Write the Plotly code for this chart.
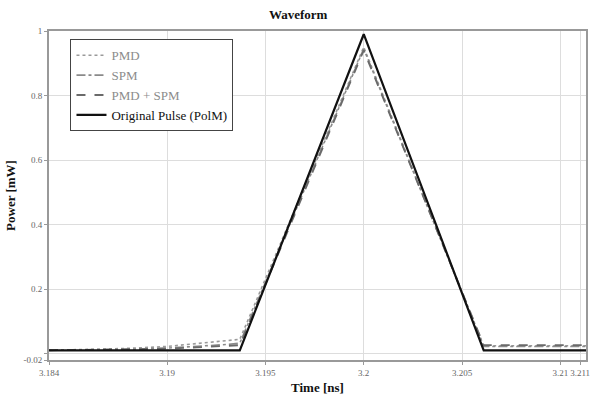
import plotly.graph_objects as go

# Time axis samples [ns]
time_ns = [3.184, 3.186, 3.188, 3.190, 3.1915, 3.193, 3.1937, 3.2, 3.2061, 3.208, 3.210, 3.2113]

# Power [mW] for each case
pmd = [0.010, 0.012, 0.016, 0.022, 0.030, 0.038, 0.044, 0.950, 0.024, 0.024, 0.024, 0.024]
spm = [0.010, 0.011, 0.013, 0.017, 0.022, 0.028, 0.032, 0.945, 0.022, 0.022, 0.022, 0.022]
pmd_spm = [0.010, 0.011, 0.012, 0.015, 0.019, 0.023, 0.026, 0.940, 0.026, 0.026, 0.026, 0.026]
original = [0.010, 0.010, 0.010, 0.010, 0.010, 0.010, 0.010, 0.990, 0.010, 0.010, 0.010, 0.010]

x_ticks = [3.184, 3.19, 3.195, 3.2, 3.205, 3.21, 3.211]
x_ticktext = ["3.184", "3.19", "3.195", "3.2", "3.205", "3.21", "3.211"]
y_ticks = [-0.02, 0, 0.2, 0.4, 0.6, 0.8, 1]
y_ticktext = ["-0.02", "", "0.2", "0.4", "0.6", "0.8", "1"]

serif = "Liberation Serif, Times New Roman, serif"

fig = go.Figure()
fig.add_trace(go.Scatter(x=time_ns, y=pmd, mode="lines",
                         name="<span style='color:#8c8c8c'>PMD</span>",
                         line=dict(color="#9a9a9a", width=1.6, dash="dot")))
fig.add_trace(go.Scatter(x=time_ns, y=spm, mode="lines",
                         name="<span style='color:#8c8c8c'>SPM</span>",
                         line=dict(color="#8a8a8a", width=1.6, dash="dashdot")))
fig.add_trace(go.Scatter(x=time_ns, y=pmd_spm, mode="lines",
                         name="<span style='color:#8c8c8c'>PMD + SPM</span>",
                         line=dict(color="#6a6a6a", width=1.8, dash="dash")))
fig.add_trace(go.Scatter(x=time_ns, y=original, mode="lines",
                         name="<span style='color:#111111'>Original Pulse (PolM)</span>",
                         line=dict(color="#111111", width=2.2)))

fig.update_layout(
    width=598, height=401,
    margin=dict(l=49, r=8, t=31, b=38),
    paper_bgcolor="white", plot_bgcolor="white",
    font=dict(family=serif, color="#555555", size=10),
    title=dict(text="<b>Waveform</b>", x=0.464, xref="paper", xanchor="center",
               y=0.975, yanchor="top",
               font=dict(family=serif, size=13, color="#111111")),
    showlegend=True,
    legend=dict(x=0.04, y=0.975, xanchor="left", yanchor="top",
                bgcolor="white", bordercolor="#444444", borderwidth=1,
                font=dict(family=serif, size=13, color="#777777"),
                tracegroupgap=0, itemwidth=30),
    xaxis=dict(range=[3.184, 3.2113], tickmode="array", tickvals=x_ticks, ticktext=x_ticktext,
               tickangle=0,
               showgrid=True, gridcolor="#dddddd", gridwidth=1,
               showline=True, linecolor="#999999", linewidth=2, mirror=True,
               ticks="outside", ticklen=3, tickcolor="#999999",
               tickfont=dict(family=serif, size=9, color="#666666"),
               zeroline=False,
               title=dict(text="<b>Time [ns]</b>", standoff=6,
                          font=dict(family=serif, size=13, color="#111111"))),
    yaxis=dict(range=[-0.02, 1], tickmode="array", tickvals=y_ticks, ticktext=y_ticktext,
               showgrid=True, gridcolor="#dddddd", gridwidth=1,
               showline=True, linecolor="#999999", linewidth=2, mirror=True,
               ticks="outside", ticklen=3, tickcolor="#999999",
               tickfont=dict(family=serif, size=9, color="#666666"),
               zeroline=False,
               title=dict(text="<b>Power [mW]</b>", standoff=5,
                          font=dict(family=serif, size=13, color="#111111"))),
)

fig.write_html("out.html")
